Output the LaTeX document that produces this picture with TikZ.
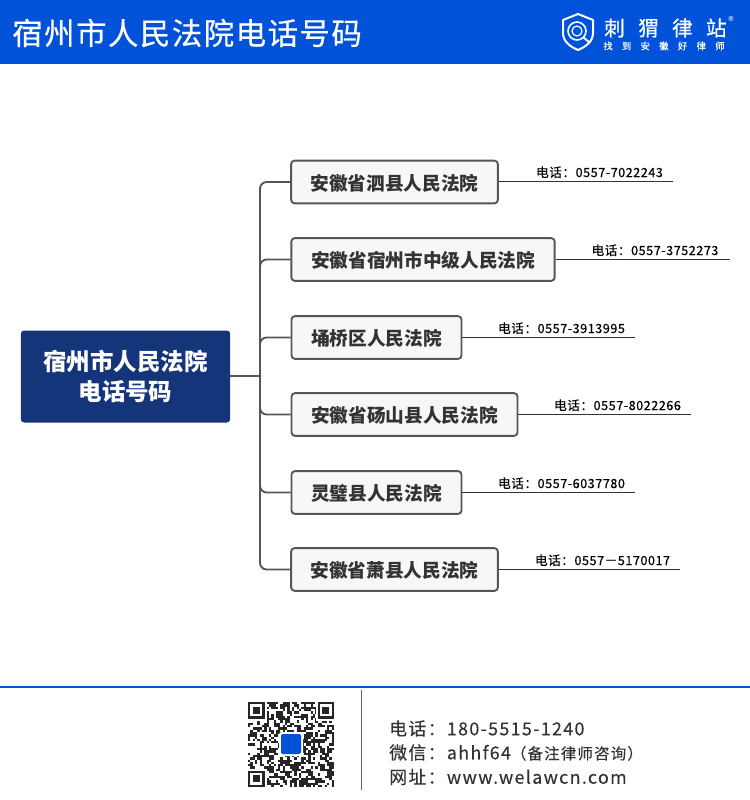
\documentclass[tikz,border=0pt]{standalone}
\usepackage{fontspec}
\setmainfont{Noto Sans CJK SC}
\newfontfamily\footfont[LetterSpace=7.5,FakeBold=0.3]{Noto Sans CJK SC}
\newfontfamily\phonefont[LetterSpace=4,FakeBold=0.5]{Noto Sans CJK SC}
\newfontfamily\titlefont[LetterSpace=5,FakeBold=0.5]{Noto Sans CJK SC}
\newfontfamily\logofont[LetterSpace=64,FakeBold=0.4]{Noto Sans CJK SC}
\newfontfamily\sublogofont[LetterSpace=100,FakeBold=0.4]{Noto Sans CJK SC}
\usetikzlibrary{calc}
\definecolor{bandblue}{HTML}{0052D9}
\definecolor{rootblue}{HTML}{15357A}
\definecolor{linegray}{HTML}{555555}
\tikzset{
  rootbox/.style={fill=rootblue, rounded corners=2.5pt, text=white, align=center,
    minimum width=157pt, minimum height=69pt, inner sep=0pt,
    font=\fontsize{17.6pt}{22.5pt}\selectfont\bfseries},
  courtbox/.style={draw=linegray, line width=1.4pt, fill=black!3, rounded corners=2.5pt,
    minimum height=32pt, inner sep=0pt, text=black!80, text height=13pt, text depth=1pt,
    font=\fontsize{14pt}{16pt}\selectfont\bfseries},
  branch/.style={draw=linegray, line width=1.4pt, rounded corners=5pt},
  phoneline/.style={draw=black!80, line width=0.7pt},
  phonetext/.style={anchor=south, inner sep=2pt, text=black,
    font=\fontsize{9.5pt}{11pt}\phonefont},
  foottext/.style={anchor=west, inner sep=0pt, text=black!80,
    font=\fontsize{13.4pt}{16pt}\footfont}
}

\begin{document}
\begin{tikzpicture}[x=0.75pt, y=-0.75pt]
\useasboundingbox (0,0) rectangle (750,800);
% top band
\fill[bandblue] (0,0) rectangle (750,64);
\node[anchor=west, inner sep=0pt, text=white, font=\fontsize{22.8pt}{26pt}\titlefont] (title) at (12,33) {宿州市人民法院电话号码};
% logo
\draw[white, line width=1.5pt, line join=round] (578,14) -- (593,20) -- (593,33) .. controls (593,42) and (585,47) .. (578,50) .. controls (571,47) and (563,42) .. (563,33) -- (563,20) -- cycle;
\draw[white, line width=1.2pt] (577,31) circle (9);
\draw[white, line width=0.9pt] (577,31) circle (5);
\draw[white, line width=1.4pt] (583,37) -- (590,43);
\node[anchor=west, inner sep=0pt, text=white, font=\fontsize{15.5pt}{20pt}\logofont] (logo) at (604,28) {刺猬律站};
\node[anchor=west, inner sep=0pt, text=white, font=\fontsize{7pt}{8pt}\sublogofont] (slogan) at (603,46) {找到安徽好律师};
\node[anchor=west, inner sep=0pt, text=white, font=\fontsize{8.5pt}{9pt}\selectfont] (mark) at (728,21) {®};

% mind map
\node[rootbox] (root) at (125.5,376.5) {宿州市人民法院\\电话号码};
\coordinate (hub) at (260,376);
\node[courtbox, minimum width=155pt] (c1) at (394.5,182) {安徽省泗县人民法院};
\node[courtbox, minimum width=197.5pt] (c2) at (423,259.5) {安徽省宿州市中级人民法院};
\node[courtbox, minimum width=127.5pt] (c3) at (376.5,337.5) {埇桥区人民法院};
\node[courtbox, minimum width=169.5pt] (c4) at (404.5,414.5) {安徽省砀山县人民法院};
\node[courtbox, minimum width=127.5pt] (c5) at (376.5,492.5) {灵璧县人民法院};
\node[courtbox, minimum width=155pt] (c6) at (394.5,569.5) {安徽省萧县人民法院};
\draw[linegray, line width=2.2pt] (root.east |- hub) -- (hub);
\foreach \n in {1,...,6}
  \draw[branch] (hub) |- (c\n.west);

% phone numbers
\coordinate (e1) at (673,181);
\coordinate (e2) at (730,259);
\coordinate (e3) at (635,337);
\coordinate (e4) at (691,414);
\coordinate (e5) at (635,492);
\coordinate (e6) at (680,569);
\draw[phoneline] (c1.east |- e1) -- (e1);
\draw[phoneline] (c2.east |- e2) -- (e2);
\draw[phoneline] (c3.east |- e3) -- (e3);
\draw[phoneline] (c4.east |- e4) -- (e4);
\draw[phoneline] (c5.east |- e5) -- (e5);
\draw[phoneline] (c6.east |- e6) -- (e6);
\node[phonetext] (p1) at (599.5,181) {电话：0557-7022243};
\node[phonetext] (p2) at (655,259) {电话：0557-3752273};
\node[phonetext] (p3) at (561.5,337) {电话：0557-3913995};
\node[phonetext] (p4) at (617.5,414) {电话：0557-8022266};
\node[phonetext] (p5) at (561.5,492) {电话：0557-6037780};
\node[phonetext] (p6) at (602.5,569) {电话：0557－5170017};

% footer
\draw[bandblue, line width=1.5pt] (0,687) -- (750,687);
\draw[black!60, line width=0.75pt] (361,690) -- (361,790);
\node[foottext] (tel) at (389,728.5) {电话：180-5515-1240};
\node[foottext] (wx) at (389,752.5) {微信：ahhf64{\fontsize{11.6pt}{14pt}\selectfont（备注律师咨询）}};
\node[foottext] (web) at (389,777) {网址：www.welawcn.com};

% qr code
\pgfmathsetseed{64}
\foreach \i in {0,...,36}
  \foreach \j in {0,...,36} {
    \pgfmathtruncatemacro{\bit}{rnd<0.52 ? 1 : 0}
    \ifnum\bit=1 \fill[black!85] ({248+\i*2.32},{702+\j*2.3}) rectangle ++(2.32,2.3); \fi
  }
\foreach \x/\y in {248/702, 317.5/702, 248/770.5} {
  \fill[white] (\x-2,\y-2) rectangle ++(20.5,20.5);
  \fill[black!85] (\x,\y) rectangle ++(16.5,16.5);
  \fill[white] (\x+2.3,\y+2.3) rectangle ++(11.9,11.9);
  \fill[black!85] (\x+4.6,\y+4.6) rectangle ++(7.3,7.3);
}
\fill[white, rounded corners=2pt] (279,732) rectangle (303,756);
\fill[bandblue, rounded corners=1.5pt] (281,734) rectangle (301,754);
\end{tikzpicture}
\end{document}
